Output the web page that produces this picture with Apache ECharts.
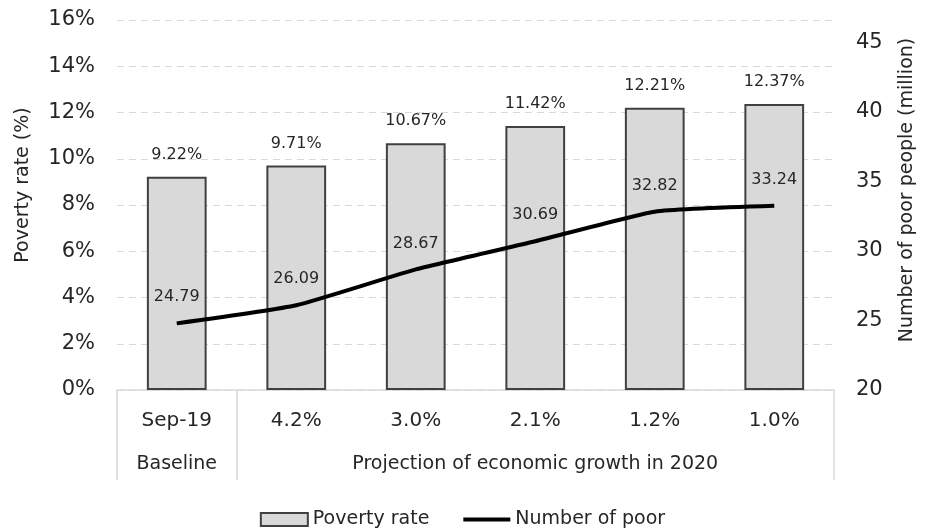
<!DOCTYPE html>
<html>
<head>
<meta charset="utf-8">
<title>Poverty projection</title>
<script src="https://cdn.jsdelivr.net/npm/echarts@6/dist/echarts.min.js"></script>
<style>
  html, body { margin: 0; padding: 0; background: #fff; }
  #chart { width: 925px; height: 529px; }
</style>
</head>
<body>
<div id="chart"></div>
<script>
// categories (growth scenario) and the group they belong to
var categories = ['Sep-19', '4.2%', '3.0%', '2.1%', '1.2%', '1.0%']
var groupLabels = ['Baseline', '', '', 'Projection of economic growth in 2020', '', '']
// poverty rate, percent
var povertyRate = [9.22, 9.71, 10.67, 11.42, 12.21, 12.37]
// number of poor people, million
var poorPeople = [24.79, 26.09, 28.67, 30.69, 32.82, 33.24]

var font = 'DejaVu Sans'
var textColor = '#262626'
var gridColor = '#d9d9d9'

var chart = echarts.init(document.getElementById('chart'))

chart.setOption({
  animation: false,
  textStyle: { fontFamily: font, color: textColor },
  grid: {
    left: 117,
    right: 88,
    top: 20,
    bottom: 139
  },
  legend: {
    top: 505,
    left: 'center',
    itemWidth: 47,
    itemHeight: 13,
    itemGap: 32,
    textStyle: { fontFamily: font, fontSize: 19, color: textColor },
    data: [
      { name: 'Poverty rate', icon: 'rect' },
      // keep the thick line, hide the marker dot
      { name: 'Number of poor', itemStyle: { opacity: 0 }, lineStyle: { width: 4, color: '#000' } }
    ]
  },
  xAxis: [{
    type: 'category',
    data: categories,
    axisLine: { show: true, lineStyle: { color: gridColor, width: 1.5 } },
    axisTick: {
      show: true,
      length: 90,
      // only separate Baseline from Projection (last edge is added by echarts)
      interval: function (index) { return index <= 1 },
      lineStyle: { color: gridColor, width: 1.5 }
    },
    axisLabel: {
      interval: 0,
      margin: 21,
      fontSize: 20,
      color: textColor,
      fontFamily: font
    }
  }, {
    type: 'category',
    data: groupLabels,
    position: 'bottom',
    offset: 56,
    axisLine: { show: false },
    axisTick: { show: false },
    axisLabel: {
      interval: 0,
      margin: 9,
      fontSize: 19,
      color: textColor,
      fontFamily: font
    }
  }],
  yAxis: [{
    type: 'value',
    min: 0,
    max: 16,
    interval: 2,
    name: 'Poverty rate (%)',
    nameLocation: 'middle',
    nameGap: 84,
    nameTextStyle: { fontSize: 19, color: textColor, fontFamily: font, padding: [0, 0, 0, 40] },
    axisLine: { show: false },
    axisTick: { show: false },
    axisLabel: {
      formatter: '{value}%',
      margin: 22,
      fontSize: 21,
      color: textColor,
      fontFamily: font
    },
    splitLine: {
      show: true,
      lineStyle: { color: gridColor, type: [7, 5], width: 1 }
    }
  }, {
    type: 'value',
    min: 20,
    max: 46.6,
    interval: 5,
    name: 'Number of poor people (million)',
    nameLocation: 'middle',
    nameGap: 64,
    nameTextStyle: { fontSize: 19, color: textColor, fontFamily: font, padding: [0, 0, 0, 30] },
    axisLine: { show: false },
    axisTick: { show: false },
    axisLabel: {
      showMaxLabel: false,
      margin: 22,
      fontSize: 21,
      color: textColor,
      fontFamily: font
    },
    splitLine: { show: false }
  }],
  series: [{
    name: 'Poverty rate',
    type: 'bar',
    data: povertyRate,
    barWidth: '50%',
    itemStyle: {
      color: '#d9d9d9',
      borderColor: '#404040',
      borderWidth: 2
    },
    label: {
      show: true,
      position: 'top',
      distance: 14,
      formatter: '{c}%',
      fontSize: 16,
      color: textColor,
      fontFamily: font
    }
  }, {
    name: 'Number of poor',
    type: 'line',
    yAxisIndex: 1,
    data: poorPeople,
    smooth: 0.15,
    symbol: 'circle',
    symbolSize: 0.1,
    lineStyle: { color: '#000', width: 4 },
    itemStyle: { color: '#000' },
    label: {
      show: true,
      position: 'top',
      distance: 18,
      fontSize: 16,
      color: textColor,
      fontFamily: font
    },
    z: 5
  }]
})
</script>
</body>
</html>
